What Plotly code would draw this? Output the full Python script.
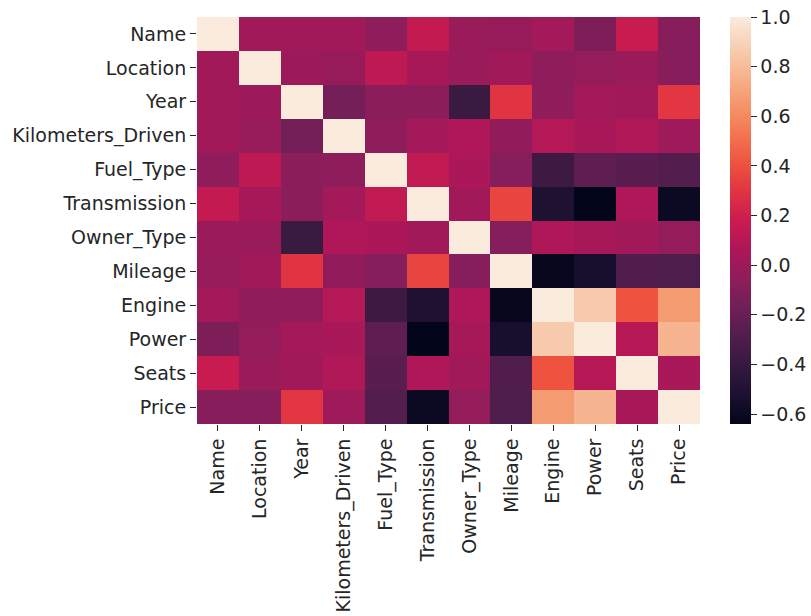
import numpy as np
import plotly.graph_objects as go

features = ["Name", "Location", "Year", "Kilometers_Driven", "Fuel_Type",
            "Transmission", "Owner_Type", "Mileage", "Engine", "Power",
            "Seats", "Price"]

# Upper triangle of the correlation matrix, row by row (diagonal excluded)
upper = [
    [0.02, 0.02, 0.02, -0.05, 0.15, -0.01, -0.02, 0.03, -0.12, 0.17, -0.08],
    [0.00, -0.02, 0.13, 0.04, -0.01, 0.02, -0.05, -0.03, -0.01, -0.08],
    [-0.15, -0.07, -0.07, -0.39, 0.30, -0.05, 0.03, 0.02, 0.31],
    [-0.05, 0.03, 0.07, -0.04, 0.09, 0.05, 0.08, 0.01],
    [0.14, 0.06, -0.09, -0.37, -0.24, -0.26, -0.28],
    [0.02, 0.36, -0.51, -0.64, 0.07, -0.60],
    [-0.09, 0.07, 0.04, 0.02, -0.03],
    [-0.62, -0.54, -0.29, -0.30],
    [0.86, 0.41, 0.67],
    [0.10, 0.77],
    [0.05],
]

n = len(features)
corr = np.eye(n)
for i, row in enumerate(upper):
    for k, v in enumerate(row):
        j = i + 1 + k
        corr[i, j] = v
        corr[j, i] = v

# seaborn "rocket" colour map
rocket = [
    [0.0, "#03051a"],
    [0.071, "#1c1030"],
    [0.143, "#35193e"],
    [0.214, "#511d4c"],
    [0.286, "#701f57"],
    [0.357, "#8e1d5b"],
    [0.429, "#ad1759"],
    [0.5, "#cb1b4f"],
    [0.571, "#e13342"],
    [0.643, "#ee5440"],
    [0.714, "#f37651"],
    [0.786, "#f5966c"],
    [0.857, "#f6b48f"],
    [0.929, "#f7d0b5"],
    [1.0, "#faebdd"],
]

zmin = float(corr.min())
zmax = 1.0

FONT = "DejaVu Sans"
FS = 19
TXT = "#262626"

L, R, T, B = 197, 60, 17, 192
W, H = 811, 616
plot_w = W - L - R

fig = go.Figure(go.Heatmap(
    z=corr,
    x=features,
    y=features,
    colorscale=rocket,
    zmin=zmin,
    zmax=zmax,
    colorbar=dict(
        x=(730 - L) / plot_w,
        xanchor="left",
        xpad=0,
        ypad=0,
        y=0.5,
        yanchor="middle",
        len=1.0,
        lenmode="fraction",
        thickness=21,
        outlinewidth=0,
        tickvals=[-0.6, -0.4, -0.2, 0.0, 0.2, 0.4, 0.6, 0.8, 1.0],
        tickformat=".1f",
        ticks="outside",
        ticklen=6,
        tickcolor=TXT,
        tickfont=dict(family=FONT, size=FS, color=TXT),
    ),
))

fig.update_layout(
    width=W,
    height=H,
    margin=dict(l=L, r=R, t=T, b=B, autoexpand=False),
    paper_bgcolor="white",
    plot_bgcolor="white",
    font=dict(family=FONT, size=FS, color=TXT),
    xaxis=dict(
        domain=[0, (700 - L) / plot_w],
        tickangle=-90,
        ticks="outside",
        ticklen=6,
        tickcolor=TXT,
        showgrid=False,
        zeroline=False,
        showline=False,
        automargin=False,
    ),
    yaxis=dict(
        autorange="reversed",
        ticks="outside",
        ticklen=6,
        tickcolor=TXT,
        showgrid=False,
        zeroline=False,
        showline=False,
        automargin=False,
    ),
)

fig.write_html("out.html")
